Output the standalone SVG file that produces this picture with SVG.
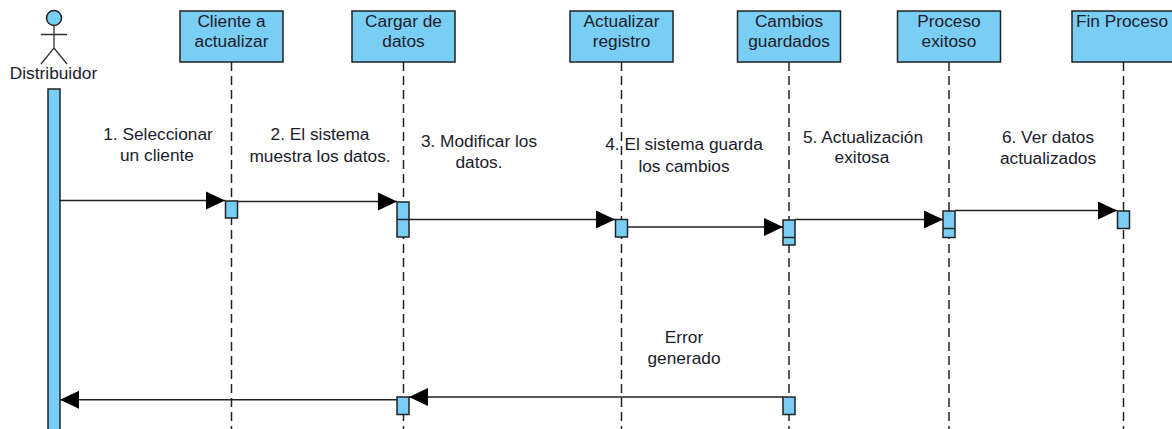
<svg xmlns="http://www.w3.org/2000/svg" width="1172" height="429" viewBox="0 0 1172 429">
<style>
.box{fill:#79cef5;stroke:#222;stroke-width:1.5}
.life{fill:none;stroke:#222;stroke-width:1.5;stroke-dasharray:9 5}
.msg{fill:none;stroke:#222;stroke-width:1.5;marker-end:url(#arr)}
.stick{fill:none;stroke:#333;stroke-width:1.3}
text{font-family:"Liberation Sans",Arial,sans-serif;font-size:17.300px;fill:#1c1c2c;text-anchor:middle}
</style>
<defs>
<marker id="arr" markerUnits="userSpaceOnUse" markerWidth="20" markerHeight="20" refX="19" refY="10" orient="auto-start-reverse" overflow="visible">
<path d="M0 1 L19 10 L0 19 Z" fill="#000"/>
</marker>
</defs>
<rect width="1172" height="429" fill="#fff"/>
<g id="lifelines">
<path class="life" d="M231.500 62V429"/>
<path class="life" d="M403.500 62V429"/>
<path class="life" d="M621.500 62V429"/>
<path class="life" d="M789 62V429"/>
<path class="life" d="M949 62V429"/>
<path class="life" d="M1123.500 62V429"/>
</g>
<g id="actor">
<circle class="box" cx="54" cy="18" r="7.500"/>
<path class="stick" d="M54 25.500V48M41 34.500H67M41 64L54 48L67 64"/>
<text x="53.500" y="79">Distribuidor</text>
<rect class="box" x="48" y="89" width="12" height="345"/>
</g>
<g id="cliente">
<rect class="box" x="180" y="11" width="103" height="51"/>
<text x="231.500" y="27">Cliente a</text><text x="231.500" y="47">actualizar</text>
<rect class="box" x="225.500" y="201" width="12" height="17"/>
</g>
<g id="cargar">
<rect class="box" x="352" y="11" width="103" height="51"/>
<text x="403.500" y="27">Cargar de</text><text x="403.500" y="47">datos</text>
<rect class="box" x="397" y="202" width="12" height="35"/>
<rect class="box" x="397" y="397" width="12" height="17.500"/>
</g>
<g id="actualizar">
<rect class="box" x="570" y="11" width="103" height="51"/>
<text x="621.500" y="27">Actualizar</text><text x="621.500" y="47">registro</text>
<rect class="box" x="615.500" y="219.500" width="12" height="17.500"/>
</g>
<g id="cambios">
<rect class="box" x="737.500" y="11" width="103" height="51"/>
<text x="789" y="27">Cambios</text><text x="789" y="47">guardados</text>
<rect class="box" x="783" y="220" width="12" height="25"/>
<path class="box" d="M783 237.500H795"/>
<rect class="box" x="783" y="397" width="12" height="17.500"/>
</g>
<g id="proceso">
<rect class="box" x="897.500" y="11" width="103" height="51"/>
<text x="949" y="27">Proceso</text><text x="949" y="47">exitoso</text>
<rect class="box" x="943" y="211" width="12" height="26.500"/>
<path class="box" d="M943 228.500H955"/>
</g>
<g id="fin">
<rect class="box" x="1072" y="11" width="104" height="51"/>
<text x="1122" y="27">Fin Proceso</text>
<rect class="box" x="1117.500" y="211" width="12" height="17.500"/>
</g>
<g id="connectors">
<path class="msg" d="M59 200.500H225"/>
<path class="msg" d="M237.500 201.500H397"/>
<path class="msg" d="M397 219.500H615"/>
<path class="msg" d="M627.500 227H783"/>
<path class="msg" d="M795 219.500H943"/>
<path class="msg" d="M955 210.500H1117"/>
<path class="msg" d="M783 397H409"/>
<path class="msg" d="M397 399.700H60"/>
</g>
<g id="labels">
<text x="158" y="140">1. Seleccionar</text><text x="157" y="161">un cliente</text>
<text x="320" y="140">2. El sistema</text><text x="320" y="162">muestra los datos.</text>
<text x="479" y="147">3. Modificar los</text><text x="479" y="168">datos.</text>
<text x="684" y="150">4. El sistema guarda</text><text x="684" y="172">los cambios</text>
<text x="863" y="143">5. Actualización</text><text x="862" y="163">exitosa</text>
<text x="1048" y="143">6. Ver datos</text><text x="1048" y="164">actualizados</text>
<text x="684" y="343">Error</text><text x="684" y="364">generado</text>
</g>
</svg>
